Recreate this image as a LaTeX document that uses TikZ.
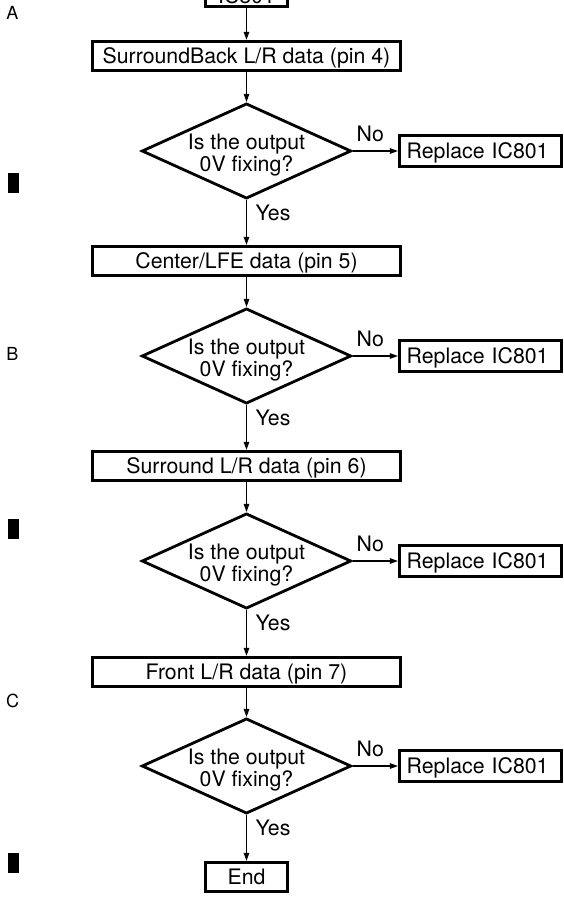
\documentclass[tikz,border=0pt]{standalone}
\usepackage{fontspec}
\setmainfont{TeX Gyre Heros}
\usetikzlibrary{shapes.geometric,arrows.meta}
\begin{document}
\begin{tikzpicture}[x=1pt,y=-1pt,
  every node/.style={font=\fontsize{21.3}{17}\selectfont},
  stepbox/.style={draw, rectangle, line width=2.8pt, inner sep=0pt,
    minimum width=307.5pt, minimum height=29.5pt, text height=15.2pt, text depth=0pt},
  smallbox/.style={stepbox, minimum width=81.4pt},
  fixbox/.style={draw, rectangle, line width=2.8pt, inner ysep=0pt, inner xsep=7.4pt,
    text width=147.6pt, align=left, minimum height=31.4pt, text height=15.2pt, text depth=0pt},
  decision/.style={diamond, draw, line width=2.8pt, aspect=2.2, inner sep=0pt,
    minimum width=205pt, minimum height=93.5pt, align=center,
    font=\fontsize{21.3}{16}\selectfont, text height=41pt, text depth=1pt},
  conn/.style={line width=1.2pt, -{Triangle[length=8pt,width=5.5pt]}},
  nolab/.style={pos=0.39, anchor=south, inner sep=0pt, yshift=9pt},
  yeslab/.style={pos=0.28, anchor=west, inner sep=0pt, xshift=8.5pt},
  sidelet/.style={font=\fontsize{18}{18}\selectfont, inner sep=0pt},
  marker/.style={fill=black, draw=none}
]
\useasboundingbox (0,0) rectangle (563,897);
\clip (0,0) rectangle (563,897);

% page letters and margin marks
\node[sidelet] (la) at (12.5,13) {A};
\node[sidelet] (lb) at (12.5,353.5) {B};
\node[sidelet] (lc) at (12.5,701) {C};
\fill[marker] (8,173) rectangle (19,193);
\fill[marker] (8,519) rectangle (19,539);
\fill[marker] (8,853) rectangle (19,873);

% main column
\node[smallbox, text height=23pt] (ic) at (246.5,-8) {IC801};

\node[stepbox] (b1) at (246.5,56) {SurroundBack L/R data (pin 4)};
\node[decision] (d1) at (246.5,151) {Is the output\\0V fixing?};
\node[fixbox] (r1) at (480.5,151) {Replace IC801};

\node[stepbox] (b2) at (246.5,261) {Center/LFE data (pin 5)};
\node[decision] (d2) at (246.5,356) {Is the output\\0V fixing?};
\node[fixbox] (r2) at (480.5,356) {Replace IC801};

\node[stepbox] (b3) at (246.5,466) {Surround L/R data (pin 6)};
\node[decision] (d3) at (246.5,561) {Is the output\\0V fixing?};
\node[fixbox] (r3) at (480.5,561) {Replace IC801};

\node[stepbox] (b4) at (246.5,672) {Front L/R data (pin 7)};
\node[decision] (d4) at (246.5,766) {Is the output\\0V fixing?};
\node[fixbox] (r4) at (480.5,766) {Replace IC801};

\node[smallbox] (fin) at (246.5,877) {End};

% connectors
\draw[conn] (ic) -- (b1);
\draw[conn] (b1) -- (d1);
\draw[conn] (d1.east) -- node[nolab]{No} (r1.west);
\draw[conn] (d1.south) -- node[yeslab]{Yes} (b2.north);
\draw[conn] (b2) -- (d2);
\draw[conn] (d2.east) -- node[nolab]{No} (r2.west);
\draw[conn] (d2.south) -- node[yeslab]{Yes} (b3.north);
\draw[conn] (b3) -- (d3);
\draw[conn] (d3.east) -- node[nolab]{No} (r3.west);
\draw[conn] (d3.south) -- node[yeslab]{Yes} (b4.north);
\draw[conn] (b4) -- (d4);
\draw[conn] (d4.east) -- node[nolab]{No} (r4.west);
\draw[conn] (d4.south) -- node[yeslab]{Yes} (fin.north);
\end{tikzpicture}
\end{document}
